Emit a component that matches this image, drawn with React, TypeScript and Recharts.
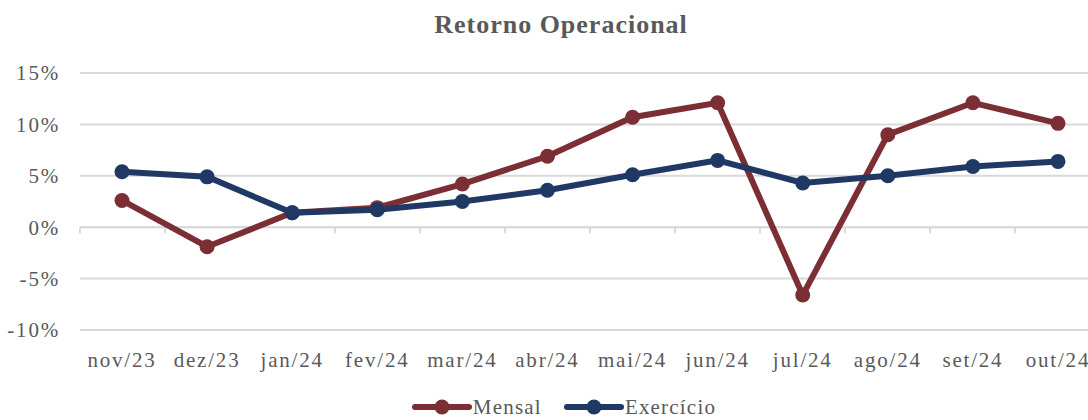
import { CartesianGrid, Legend, Line, LineChart, ReferenceLine, XAxis, YAxis } from "recharts";

const months = ["nov/23", "dez/23", "jan/24", "fev/24", "mar/24", "abr/24", "mai/24", "jun/24", "jul/24", "ago/24", "set/24", "out/24"];
const mensal = [2.6, -1.9, 1.4, 1.9, 4.2, 6.9, 10.7, 12.1, -6.6, 9.0, 12.1, 10.1];
const exercicio = [5.4, 4.9, 1.4, 1.7, 2.5, 3.6, 5.1, 6.5, 4.3, 5.0, 5.9, 6.4];
const seriesNames = ["Mensal", "Exercício"];
const yTicks = [-10, -5, 0, 5, 10, 15];

const RED = "#7B2E33";
const BLUE = "#1F3864";
const GRAY = "#595959";
const GRID = "#D9D9D9";
const FONT = "'Liberation Serif', 'Times New Roman', serif";

const data = months.map((m, i) => ({ month: m, Mensal: mensal[i], "Exercício": exercicio[i] }));

const ZeroAxis = (props: any) => {
  const { x1, y1, x2 } = props;
  const n = months.length;
  const step = (x2 - x1) / n;
  return (
    <g>
      <line x1={x1} y1={y1} x2={x2} y2={y1} stroke={GRID} strokeWidth={2} />
      {Array.from({ length: n + 1 }, (_, i) => (
        <line key={i} x1={x1 + i * step} y1={y1} x2={x1 + i * step} y2={y1 + 6} stroke={GRID} strokeWidth={2} />
      ))}
    </g>
  );
};

const renderLegend = (props: any) => {
  const items = [...(props.payload || [])].sort(
    (a: any, b: any) => seriesNames.indexOf(a.value) - seriesNames.indexOf(b.value)
  );
  return (
    <div style={{ display: "flex", justifyContent: "center", gap: 22, fontFamily: FONT, height: 20 }}>
      {items.map((entry: any) => (
        <div key={entry.value} style={{ display: "flex", alignItems: "center", height: 20 }}>
          <svg width={60} height={18}>
            <line x1={3} y1={9} x2={57} y2={9} stroke={entry.color} strokeWidth={6} strokeLinecap="round" />
            <circle cx={30} cy={9} r={7.5} fill={entry.color} />
          </svg>
          <span style={{ color: GRAY, fontSize: 21, lineHeight: "20px", letterSpacing: 1.2, marginLeft: 1 }}>{entry.value}</span>
        </div>
      ))}
    </div>
  );
};

const App = () => {
  return (
    <div style={{ position: "absolute", left: 0, top: 0, width: 1088, height: 420, overflow: "hidden", background: "#fff" }}>
      <LineChart width={1100} height={420} data={data} margin={{ top: 73, right: 0, bottom: 60, left: 0 }}>
        <text x={561} y={33} textAnchor="middle" fill={GRAY} fontFamily={FONT} fontWeight="bold" fontSize={26} letterSpacing={1}>
          Retorno Operacional
        </text>
        <CartesianGrid vertical={false} stroke={GRID} strokeWidth={2} />
        <XAxis
          dataKey="month"
          height={30}
          axisLine={false}
          tickLine={false}
          tickMargin={16}
          padding={{ left: 42, right: 42 }}
          interval={0}
          tick={{ fill: GRAY, fontSize: 21, fontFamily: FONT, letterSpacing: 1.8 }}
        />
        <YAxis
          width={80}
          domain={[-10, 15]}
          ticks={yTicks}
          axisLine={false}
          tickLine={false}
          tickMargin={14}
          tickFormatter={(v: number) => `${v}%`}
          tick={{ fill: GRAY, fontSize: 21, fontFamily: FONT, letterSpacing: 1.8 }}
        />
        <ReferenceLine y={0} shape={ZeroAxis} />
        <Legend
          layout="horizontal"
          verticalAlign="middle"
          align="center"
          content={renderLegend}
          wrapperStyle={{ top: 397, left: 0, width: 1128 }}
        />
        <Line
          dataKey="Mensal"
          stroke={RED}
          strokeWidth={6}
          dot={{ r: 7.5, fill: RED, stroke: RED, strokeWidth: 0 }}
          activeDot={false}
          isAnimationActive={false}
        />
        <Line
          dataKey="Exercício"
          stroke={BLUE}
          strokeWidth={6}
          dot={{ r: 7.5, fill: BLUE, stroke: BLUE, strokeWidth: 0 }}
          activeDot={false}
          isAnimationActive={false}
        />
      </LineChart>
    </div>
  );
};

export default App;
